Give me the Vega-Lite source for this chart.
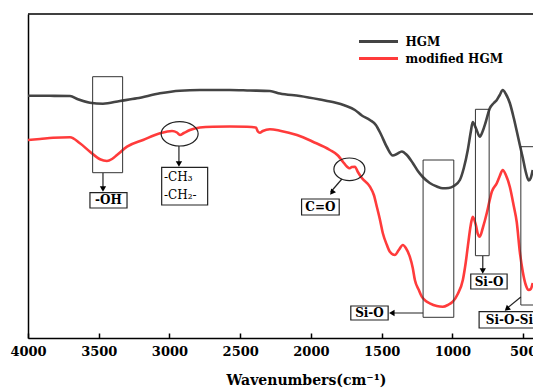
{
  "$schema": "https://vega.github.io/schema/vega-lite/v6.json",
  "autosize": "none",
  "width": 505,
  "height": 324,
  "padding": {"left": 28, "top": 14, "right": 0, "bottom": 50},
  "background": "white",
  "config": {
    "view": {"stroke": null},
    "font": "DejaVu Serif",
    "axis": {"grid": false}
  },
  "datasets": {
    "spectra": [
      {"series": "HGM", "wn": 4000, "T": 242.3},
      {"series": "HGM", "wn": 3845, "T": 242.2},
      {"series": "HGM", "wn": 3703, "T": 242},
      {"series": "HGM", "wn": 3647, "T": 238.7},
      {"series": "HGM", "wn": 3562, "T": 235.3},
      {"series": "HGM", "wn": 3470, "T": 234.3},
      {"series": "HGM", "wn": 3350, "T": 237},
      {"series": "HGM", "wn": 3230, "T": 239.7},
      {"series": "HGM", "wn": 3067, "T": 244.7},
      {"series": "HGM", "wn": 2926, "T": 247.3},
      {"series": "HGM", "wn": 2785, "T": 248},
      {"series": "HGM", "wn": 2573, "T": 248},
      {"series": "HGM", "wn": 2431, "T": 247.5},
      {"series": "HGM", "wn": 2290, "T": 247},
      {"series": "HGM", "wn": 2219, "T": 244.5},
      {"series": "HGM", "wn": 2078, "T": 242},
      {"series": "HGM", "wn": 1937, "T": 238.5},
      {"series": "HGM", "wn": 1831, "T": 235.5},
      {"series": "HGM", "wn": 1760, "T": 232.5},
      {"series": "HGM", "wn": 1689, "T": 228},
      {"series": "HGM", "wn": 1640, "T": 222.5},
      {"series": "HGM", "wn": 1583, "T": 218},
      {"series": "HGM", "wn": 1541, "T": 213},
      {"series": "HGM", "wn": 1506, "T": 204},
      {"series": "HGM", "wn": 1463, "T": 191},
      {"series": "HGM", "wn": 1421, "T": 182.5},
      {"series": "HGM", "wn": 1393, "T": 184},
      {"series": "HGM", "wn": 1357, "T": 186.5},
      {"series": "HGM", "wn": 1322, "T": 183},
      {"series": "HGM", "wn": 1280, "T": 175},
      {"series": "HGM", "wn": 1244, "T": 167},
      {"series": "HGM", "wn": 1209, "T": 161},
      {"series": "HGM", "wn": 1160, "T": 155},
      {"series": "HGM", "wn": 1110, "T": 151.5},
      {"series": "HGM", "wn": 1068, "T": 149.7},
      {"series": "HGM", "wn": 1025, "T": 150},
      {"series": "HGM", "wn": 990, "T": 152},
      {"series": "HGM", "wn": 947, "T": 158},
      {"series": "HGM", "wn": 919, "T": 170},
      {"series": "HGM", "wn": 891, "T": 188},
      {"series": "HGM", "wn": 870, "T": 206},
      {"series": "HGM", "wn": 856, "T": 216},
      {"series": "HGM", "wn": 834, "T": 210},
      {"series": "HGM", "wn": 806, "T": 201.3},
      {"series": "HGM", "wn": 785, "T": 207},
      {"series": "HGM", "wn": 764, "T": 216},
      {"series": "HGM", "wn": 736, "T": 229.5},
      {"series": "HGM", "wn": 707, "T": 235},
      {"series": "HGM", "wn": 686, "T": 238},
      {"series": "HGM", "wn": 665, "T": 243},
      {"series": "HGM", "wn": 644, "T": 248},
      {"series": "HGM", "wn": 622, "T": 244},
      {"series": "HGM", "wn": 594, "T": 235},
      {"series": "HGM", "wn": 566, "T": 220},
      {"series": "HGM", "wn": 545, "T": 207},
      {"series": "HGM", "wn": 523, "T": 193},
      {"series": "HGM", "wn": 502, "T": 180},
      {"series": "HGM", "wn": 481, "T": 166},
      {"series": "HGM", "wn": 460, "T": 157.5},
      {"series": "HGM", "wn": 446, "T": 160},
      {"series": "HGM", "wn": 432, "T": 168},
      {"series": "modified HGM", "wn": 4000, "T": 198},
      {"series": "modified HGM", "wn": 3915, "T": 199},
      {"series": "modified HGM", "wn": 3823, "T": 200.3},
      {"series": "modified HGM", "wn": 3703, "T": 200.7},
      {"series": "modified HGM", "wn": 3633, "T": 194.7},
      {"series": "modified HGM", "wn": 3562, "T": 186.3},
      {"series": "modified HGM", "wn": 3491, "T": 178.7},
      {"series": "modified HGM", "wn": 3442, "T": 177},
      {"series": "modified HGM", "wn": 3406, "T": 179},
      {"series": "modified HGM", "wn": 3371, "T": 183},
      {"series": "modified HGM", "wn": 3300, "T": 191.3},
      {"series": "modified HGM", "wn": 3187, "T": 198},
      {"series": "modified HGM", "wn": 3067, "T": 204.7},
      {"series": "modified HGM", "wn": 2982, "T": 207},
      {"series": "modified HGM", "wn": 2947, "T": 205.5},
      {"series": "modified HGM", "wn": 2926, "T": 203},
      {"series": "modified HGM", "wn": 2898, "T": 205},
      {"series": "modified HGM", "wn": 2855, "T": 208},
      {"series": "modified HGM", "wn": 2785, "T": 210.5},
      {"series": "modified HGM", "wn": 2693, "T": 211.3},
      {"series": "modified HGM", "wn": 2573, "T": 211.5},
      {"series": "modified HGM", "wn": 2452, "T": 211.3},
      {"series": "modified HGM", "wn": 2389, "T": 210.5},
      {"series": "modified HGM", "wn": 2375, "T": 206.5},
      {"series": "modified HGM", "wn": 2361, "T": 205.3},
      {"series": "modified HGM", "wn": 2340, "T": 207},
      {"series": "modified HGM", "wn": 2290, "T": 208.7},
      {"series": "modified HGM", "wn": 2219, "T": 207.3},
      {"series": "modified HGM", "wn": 2099, "T": 203},
      {"series": "modified HGM", "wn": 1986, "T": 196.3},
      {"series": "modified HGM", "wn": 1866, "T": 188},
      {"series": "modified HGM", "wn": 1809, "T": 182.5},
      {"series": "modified HGM", "wn": 1774, "T": 176.3},
      {"series": "modified HGM", "wn": 1746, "T": 171.5},
      {"series": "modified HGM", "wn": 1725, "T": 169.7},
      {"series": "modified HGM", "wn": 1711, "T": 171},
      {"series": "modified HGM", "wn": 1689, "T": 171.3},
      {"series": "modified HGM", "wn": 1668, "T": 166},
      {"series": "modified HGM", "wn": 1640, "T": 160},
      {"series": "modified HGM", "wn": 1583, "T": 151.3},
      {"series": "modified HGM", "wn": 1555, "T": 143},
      {"series": "modified HGM", "wn": 1534, "T": 131.3},
      {"series": "modified HGM", "wn": 1513, "T": 119},
      {"series": "modified HGM", "wn": 1492, "T": 105},
      {"series": "modified HGM", "wn": 1463, "T": 93},
      {"series": "modified HGM", "wn": 1442, "T": 86.3},
      {"series": "modified HGM", "wn": 1407, "T": 83},
      {"series": "modified HGM", "wn": 1379, "T": 88},
      {"series": "modified HGM", "wn": 1350, "T": 93},
      {"series": "modified HGM", "wn": 1329, "T": 90},
      {"series": "modified HGM", "wn": 1301, "T": 81.3},
      {"series": "modified HGM", "wn": 1280, "T": 70},
      {"series": "modified HGM", "wn": 1265, "T": 58},
      {"series": "modified HGM", "wn": 1237, "T": 48},
      {"series": "modified HGM", "wn": 1216, "T": 41.3},
      {"series": "modified HGM", "wn": 1188, "T": 37},
      {"series": "modified HGM", "wn": 1160, "T": 34.7},
      {"series": "modified HGM", "wn": 1110, "T": 32},
      {"series": "modified HGM", "wn": 1068, "T": 31.3},
      {"series": "modified HGM", "wn": 1032, "T": 33},
      {"series": "modified HGM", "wn": 997, "T": 36.3},
      {"series": "modified HGM", "wn": 962, "T": 44},
      {"series": "modified HGM", "wn": 926, "T": 58},
      {"series": "modified HGM", "wn": 905, "T": 76},
      {"series": "modified HGM", "wn": 891, "T": 91.3},
      {"series": "modified HGM", "wn": 870, "T": 113},
      {"series": "modified HGM", "wn": 856, "T": 121.3},
      {"series": "modified HGM", "wn": 834, "T": 113},
      {"series": "modified HGM", "wn": 820, "T": 104},
      {"series": "modified HGM", "wn": 806, "T": 101.3},
      {"series": "modified HGM", "wn": 785, "T": 110},
      {"series": "modified HGM", "wn": 757, "T": 124.7},
      {"series": "modified HGM", "wn": 736, "T": 138},
      {"series": "modified HGM", "wn": 721, "T": 146.3},
      {"series": "modified HGM", "wn": 686, "T": 154.7},
      {"series": "modified HGM", "wn": 665, "T": 162},
      {"series": "modified HGM", "wn": 644, "T": 168},
      {"series": "modified HGM", "wn": 622, "T": 163},
      {"series": "modified HGM", "wn": 594, "T": 151.3},
      {"series": "modified HGM", "wn": 566, "T": 132},
      {"series": "modified HGM", "wn": 545, "T": 116},
      {"series": "modified HGM", "wn": 523, "T": 86},
      {"series": "modified HGM", "wn": 502, "T": 66},
      {"series": "modified HGM", "wn": 481, "T": 53},
      {"series": "modified HGM", "wn": 460, "T": 48},
      {"series": "modified HGM", "wn": 446, "T": 49},
      {"series": "modified HGM", "wn": 432, "T": 55}
    ],
    "frames": [
      {"name": "OH", "wn": 3543, "wn2": 3331, "T": 261.3, "T2": 165.3},
      {"name": "SiO big", "wn": 1207, "wn2": 990, "T": 178, "T2": 20.7},
      {"name": "SiO narrow", "wn": 837, "wn2": 740, "T": 228.7, "T2": 82.3},
      {"name": "SiOSi", "wn": 516, "wn2": 380, "T": 191.3, "T2": 33}
    ],
    "boxes": [
      {"name": "OH", "wn": 3562, "wn2": 3300, "T": 145.3, "T2": 130},
      {"name": "CH", "wn": 3055, "wn2": 2730, "T": 170.7, "T2": 133},
      {"name": "CO", "wn": 2066, "wn2": 1800, "T": 139, "T2": 123},
      {"name": "SiO big", "wn": 1718, "wn2": 1454, "T": 32, "T2": 18},
      {"name": "SiO narrow", "wn": 870, "wn2": 613, "T": 64, "T2": 49},
      {"name": "SiOSi", "wn": 811, "wn2": 380, "T": 26.3, "T2": 10}
    ],
    "centerLabels": [
      {"text": "-OH", "wn": 3431, "T": 137.7},
      {"text": "C=O", "wn": 1933, "T": 131},
      {"text": "Si-O", "wn": 1586, "T": 25},
      {"text": "Si-O", "wn": 741, "T": 56.5}
    ],
    "leftLabels": [
      {"text": "Si-O-Si", "wn": 764, "T": 18}
    ],
    "chLabels": [
      {"text": "-CH₃", "wn": 3039, "T": 161},
      {"text": "-CH₂-", "wn": 3039, "T": 143}
    ],
    "arrows": [
      {"name": "OH", "wn": 3470, "wn2": 3470, "T": 165, "T2": 148},
      {"name": "CH", "wn": 2933, "wn2": 2933, "T": 192, "T2": 173},
      {"name": "CO", "wn": 1781, "wn2": 1860, "T": 159, "T2": 146},
      {"name": "SiO big", "wn": 1207, "wn2": 1430, "T": 25, "T2": 25},
      {"name": "SiO narrow", "wn": 785, "wn2": 785, "T": 82, "T2": 67},
      {"name": "SiOSi", "wn": 516, "wn2": 620, "T": 41, "T2": 29}
    ],
    "heads": [
      {"dir": "down", "wn": 3470, "T": 149},
      {"dir": "down", "wn": 2933, "T": 174},
      {"dir": "down", "wn": 785, "T": 67},
      {"dir": "left", "wn": 1428, "T": 25},
      {"dir": "co", "wn": 1852, "T": 145.5},
      {"dir": "sios", "wn": 615, "T": 29}
    ],
    "ellipses": [
      {"name": "CH", "wn": 2928, "T": 204.2},
      {"name": "CO", "wn": 1728, "T": 168.7}
    ],
    "frameTop": [
      {"T": 324}
    ]
  },
  "layer": [
    {
      "data": {"name": "spectra"},
      "mark": {"type": "line", "strokeWidth": 2.6, "clip": true, "interpolate": "monotone"},
      "encoding": {
        "x": {
          "field": "wn", "type": "quantitative",
          "scale": {"domain": [4000, 430], "nice": false, "zero": false},
          "axis": {
            "title": "Wavenumbers(cm⁻¹)",
            "titleFont": "DejaVu Serif", "titleFontSize": 14, "titleFontWeight": "bold", "titleColor": "black",
            "titleX": 278, "titleY": 42, "titleBaseline": "middle", "titleAnchor": "middle", "titleAlign": "center",
            "values": [4000, 3750, 3500, 3250, 3000, 2750, 2500, 2250, 2000, 1750, 1500, 1250, 1000, 750, 500],
            "format": "d",
            "labelExpr": "datum.value % 500 === 0 ? datum.label : ''",
            "labelFont": "DejaVu Serif", "labelFontSize": 13, "labelFontWeight": "bold", "labelColor": "black",
            "labelPadding": 12, "labelFlush": false, "labelOverlap": false, "labelBound": false,
            "tickSize": {"condition": {"test": "datum.value % 500 === 0", "value": -5}, "value": -3},
            "tickColor": "black", "tickWidth": 1.5,
            "domainColor": "black", "domainWidth": 1.5
          }
        },
        "y": {
          "field": "T", "type": "quantitative",
          "scale": {"domain": [0, 324], "nice": false, "zero": false},
          "axis": {"title": null, "labels": false, "ticks": false, "domainColor": "black", "domainWidth": 1.5}
        },
        "color": {
          "field": "series", "type": "nominal",
          "scale": {"domain": ["HGM", "modified HGM"], "range": ["#444444", "#ff3b3b"]},
          "legend": {
            "title": null, "orient": "none", "legendX": 342.5, "legendY": 19.5,
            "symbolType": "M-3,0L3,0", "symbolSize": 169, "symbolStrokeWidth": 3,
            "labelFont": "DejaVu Serif", "labelFontSize": 12, "labelFontWeight": "bold", "labelColor": "black",
            "labelOffset": 19, "rowPadding": 3, "padding": 0
          }
        }
      }
    },
    {
      "data": {"name": "frameTop"},
      "mark": {"type": "rule", "color": "black", "strokeWidth": 1.5},
      "encoding": {"y": {"field": "T", "type": "quantitative"}}
    },
    {
      "data": {"name": "frames"},
      "mark": {"type": "rect", "fill": "white", "fillOpacity": 0, "stroke": "#333333", "strokeWidth": 1, "clip": true},
      "encoding": {
        "x": {"field": "wn", "type": "quantitative"},
        "x2": {"field": "wn2"},
        "y": {"field": "T", "type": "quantitative"},
        "y2": {"field": "T2"}
      }
    },
    {
      "data": {"name": "arrows"},
      "mark": {"type": "rule", "color": "#222222", "strokeWidth": 1.2},
      "encoding": {
        "x": {"field": "wn", "type": "quantitative"},
        "x2": {"field": "wn2"},
        "y": {"field": "T", "type": "quantitative"},
        "y2": {"field": "T2"}
      }
    },
    {
      "data": {"name": "boxes"},
      "mark": {"type": "rect", "fill": "white", "stroke": "#222222", "strokeWidth": 1.2, "clip": true},
      "encoding": {
        "x": {"field": "wn", "type": "quantitative"},
        "x2": {"field": "wn2"},
        "y": {"field": "T", "type": "quantitative"},
        "y2": {"field": "T2"}
      }
    },
    {
      "data": {"name": "centerLabels"},
      "mark": {"type": "text", "font": "DejaVu Serif", "fontSize": 12, "fontWeight": "bold", "color": "black", "align": "center", "baseline": "middle"},
      "encoding": {
        "x": {"field": "wn", "type": "quantitative"},
        "y": {"field": "T", "type": "quantitative"},
        "text": {"field": "text"}
      }
    },
    {
      "data": {"name": "leftLabels"},
      "mark": {"type": "text", "font": "DejaVu Serif", "fontSize": 12, "fontWeight": "bold", "color": "black", "align": "left", "baseline": "middle"},
      "encoding": {
        "x": {"field": "wn", "type": "quantitative"},
        "y": {"field": "T", "type": "quantitative"},
        "text": {"field": "text"}
      }
    },
    {
      "data": {"name": "chLabels"},
      "mark": {"type": "text", "font": "DejaVu Serif", "fontSize": 12, "color": "black", "align": "left", "baseline": "middle"},
      "encoding": {
        "x": {"field": "wn", "type": "quantitative"},
        "y": {"field": "T", "type": "quantitative"},
        "text": {"field": "text"}
      }
    },
    {
      "data": {"name": "heads"},
      "transform": [{"filter": "datum.dir === 'down'"}],
      "mark": {"type": "point", "shape": "triangle-down", "size": 40, "filled": true, "color": "black", "opacity": 1},
      "encoding": {
        "x": {"field": "wn", "type": "quantitative"},
        "y": {"field": "T", "type": "quantitative"}
      }
    },
    {
      "data": {"name": "heads"},
      "transform": [{"filter": "datum.dir === 'left'"}],
      "mark": {"type": "point", "shape": "triangle-left", "size": 40, "filled": true, "color": "black", "opacity": 1},
      "encoding": {
        "x": {"field": "wn", "type": "quantitative"},
        "y": {"field": "T", "type": "quantitative"}
      }
    },
    {
      "data": {"name": "heads"},
      "transform": [{"filter": "datum.dir === 'co'"}],
      "mark": {"type": "point", "shape": "triangle-down", "size": 40, "angle": 39, "filled": true, "color": "black", "opacity": 1},
      "encoding": {
        "x": {"field": "wn", "type": "quantitative"},
        "y": {"field": "T", "type": "quantitative"}
      }
    },
    {
      "data": {"name": "heads"},
      "transform": [{"filter": "datum.dir === 'sios'"}],
      "mark": {"type": "point", "shape": "triangle-down", "size": 40, "angle": 49, "filled": true, "color": "black", "opacity": 1},
      "encoding": {
        "x": {"field": "wn", "type": "quantitative"},
        "y": {"field": "T", "type": "quantitative"}
      }
    },
    {
      "data": {"name": "ellipses"},
      "transform": [{"filter": "datum.name === 'CH'"}],
      "mark": {"type": "point", "shape": "M-1,0A1,0.66,0,1,0,1,0A1,0.66,0,1,0,-1,0Z", "size": 1369, "filled": false, "color": "#222222", "strokeWidth": 1.2, "opacity": 1},
      "encoding": {
        "x": {"field": "wn", "type": "quantitative"},
        "y": {"field": "T", "type": "quantitative"}
      }
    },
    {
      "data": {"name": "ellipses"},
      "transform": [{"filter": "datum.name === 'CO'"}],
      "mark": {"type": "point", "shape": "M-1,0A1,0.73,0,1,0,1,0A1,0.73,0,1,0,-1,0Z", "size": 961, "filled": false, "color": "#222222", "strokeWidth": 1.2, "opacity": 1},
      "encoding": {
        "x": {"field": "wn", "type": "quantitative"},
        "y": {"field": "T", "type": "quantitative"}
      }
    }
  ]
}
